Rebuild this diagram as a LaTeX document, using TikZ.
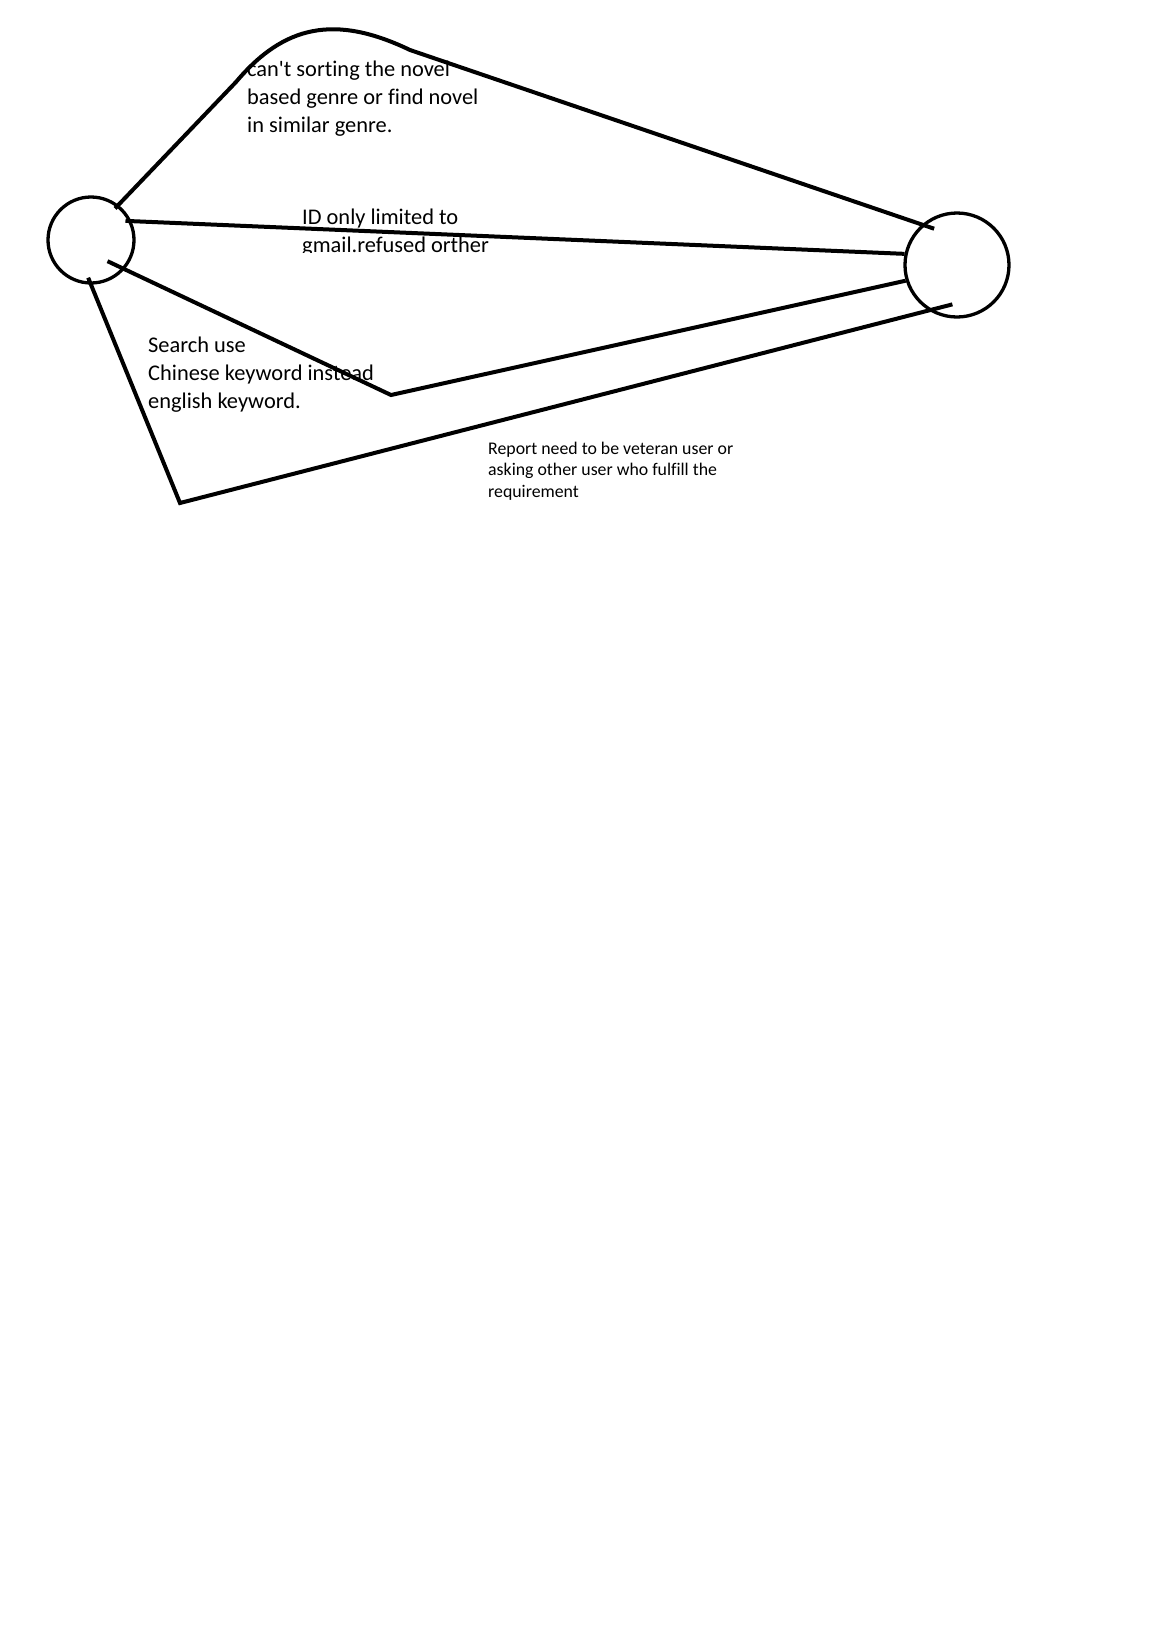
\documentclass[tikz,border=0pt]{standalone}
\usepackage{fontspec}
\setmainfont{Carlito}[Ligatures={NoCommon}]
\usetikzlibrary{positioning}

\begin{document}
\begin{tikzpicture}[
    x=1pt, y=-1pt,
    actor/.style={draw, circle, line width=3.3pt, inner sep=0pt},
    link/.style={line width=4pt},
    note/.style={anchor=base west, align=left, inner sep=0pt, font=\fontsize{22.4}{27.7}\selectfont},
    smallnote/.style={anchor=base west, align=left, inner sep=0pt, font=\fontsize{17.8}{21.5}\selectfont}
  ]
  \useasboundingbox[fill=white] (0,0) rectangle (1156,1634);

  \node[actor, minimum size=86pt] (user) at (91,240) {};
  \node[actor, minimum size=104pt] (site) at (957,265) {};

  % notes (base = last line)
  \node[note] (genre) at (247,132) {can\textquotesingle t sorting the novel\\based genre or find novel\\in similar genre.};
  \begin{scope}
    \clip (0,0) rectangle (1156,252);
    \node[note] (gmail) at (302,252.5) {ID only limited to\\gmail.refused orther};
  \end{scope}
  \node[note] (search) at (148,408) {Search use\\Chinese keyword instead\\english keyword.};
  \node[smallnote] (report) at (488,497) {Report need to be veteran user or\\asking other user who fulfill the\\requirement};

  % links
  \draw[link, shorten <=-5pt, shorten >=-13pt] (user.52) -- (236,82) .. controls (284,25) and (335,14) .. (410,50) -- (site.131);
  \draw[link, shorten <=-6pt] (user.25) -- (site.168);
  \draw[link, shorten <=-19pt] (user.-41) -- (391,395) -- (site.197);
  \draw[link, shorten <=-7.5pt, shorten >=-24.6pt] (user.270) -- (180,503) -- (site.238);
\end{tikzpicture}
\end{document}
